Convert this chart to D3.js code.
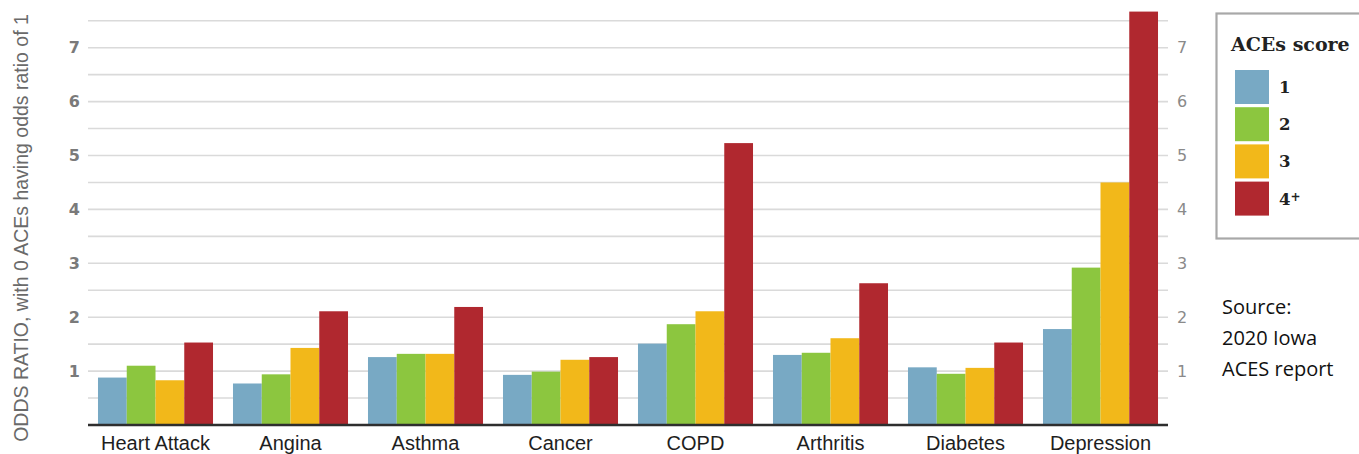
<!DOCTYPE html>
<html>
<head>
<meta charset="utf-8">
<script src="https://cdn.jsdelivr.net/npm/d3@7"></script>
<style>
  html, body { margin: 0; padding: 0; background: #fff; }
  svg { display: block; }
</style>
</head>
<body>
<svg id="chart" width="1359" height="454"></svg>
<script>
// Odds ratios of chronic conditions by ACEs score (reference group: 0 ACEs)
const conditions = ["Heart Attack", "Angina", "Asthma", "Cancer", "COPD", "Arthritis", "Diabetes", "Depression"];
const scoreGroups = ["1", "2", "3", "4+"];
const score1 = [0.88, 0.77, 1.26, 0.93, 1.51, 1.30, 1.07, 1.78];
const score2 = [1.10, 0.94, 1.32, 0.99, 1.87, 1.34, 0.95, 2.92];
const score3 = [0.83, 1.43, 1.32, 1.21, 2.11, 1.61, 1.06, 4.50];
const score4 = [1.53, 2.11, 2.19, 1.26, 5.23, 2.63, 1.53, 7.67];
const seriesValues = [score1, score2, score3, score4];
const seriesColors = ["#78a9c4", "#8cc63f", "#f2b81a", "#b0282f"];
const yTicks = [1, 2, 3, 4, 5, 6, 7];
const yTitle = "ODDS RATIO, with 0 ACEs having odds ratio of 1";
const legendTitle = "ACEs score";
const sourceLines = ["Source:", "2020 Iowa", "ACES report"];

const svg = d3.select("#chart");

const plot = { left: 88, right: 1168, bottom: 425, top: 20.75 };

const x = d3.scaleBand()
  .domain(conditions)
  .range([plot.left, plot.right])
  .paddingInner(0.148)
  .paddingOuter(0.074);

const xInner = d3.scaleBand()
  .domain(scoreGroups)
  .range([0, x.bandwidth()])
  .padding(0);

const y = d3.scaleLinear()
  .domain([0, 7.5])
  .range([plot.bottom, plot.top]);

// horizontal gridlines every half unit
const gridValues = d3.range(0.5, 7.51, 0.5);
svg.append("g")
  .selectAll("line")
  .data(gridValues)
  .join("line")
  .attr("x1", plot.left)
  .attr("x2", plot.right)
  .attr("y1", d => y(d))
  .attr("y2", d => y(d))
  .attr("stroke", "#dadada")
  .attr("stroke-width", 1.6);

// left axis labels
const leftAxis = d3.axisLeft(y).tickValues(yTicks).tickSize(0).tickPadding(8).tickFormat(d3.format("d"));
const gl = svg.append("g")
  .attr("transform", `translate(${plot.left},0)`)
  .call(leftAxis);
gl.select(".domain").remove();
gl.selectAll("text")
  .attr("font-family", "'DejaVu Sans', sans-serif")
  .attr("font-size", 16)
  .attr("font-weight", "bold")
  .attr("fill", "#7a7a7a");

// right axis labels
const rightAxis = d3.axisRight(y).tickValues(yTicks).tickSize(0).tickPadding(9).tickFormat(d3.format("d"));
const gr = svg.append("g")
  .attr("transform", `translate(${plot.right},0)`)
  .call(rightAxis);
gr.select(".domain").remove();
gr.selectAll("text")
  .attr("font-family", "'DejaVu Sans', sans-serif")
  .attr("font-size", 16)
  .attr("fill", "#8a8a8a");

// grouped bars
const groups = svg.append("g")
  .selectAll("g")
  .data(conditions)
  .join("g")
  .attr("transform", d => `translate(${x(d)},0)`);

groups.selectAll("rect")
  .data((c, i) => scoreGroups.map((s, k) => ({ s, k, v: seriesValues[k][i] })))
  .join("rect")
  .attr("x", d => xInner(d.s))
  .attr("width", xInner.bandwidth())
  .attr("y", d => y(d.v))
  .attr("height", d => y(0) - y(d.v))
  .attr("fill", d => seriesColors[d.k]);

// baseline
svg.append("line")
  .attr("x1", plot.left)
  .attr("x2", plot.right)
  .attr("y1", y(0))
  .attr("y2", y(0))
  .attr("stroke", "#2e2e2e")
  .attr("stroke-width", 2.5);

// category labels
svg.append("g")
  .selectAll("text")
  .data(conditions)
  .join("text")
  .attr("x", d => x(d) + x.bandwidth() / 2)
  .attr("y", 450)
  .attr("text-anchor", "middle")
  .attr("font-family", "'Liberation Sans', Arial, sans-serif")
  .attr("font-size", 20)
  .attr("fill", "#1e1e1e")
  .text(d => d);

// y-axis title
svg.append("text")
  .attr("transform", `translate(28,228) rotate(-90)`)
  .attr("text-anchor", "middle")
  .attr("font-family", "'Liberation Sans', Arial, sans-serif")
  .attr("font-size", 19.5)
  .attr("fill", "#6a6a6a")
  .text(yTitle);

// legend
const legend = svg.append("g");
legend.append("rect")
  .attr("x", 1216.5)
  .attr("y", 13.5)
  .attr("width", 150)
  .attr("height", 225)
  .attr("fill", "#fff")
  .attr("stroke", "#a8a8a8")
  .attr("stroke-width", 2.2);
legend.append("text")
  .attr("x", 1231)
  .attr("y", 51)
  .attr("font-family", "'DejaVu Serif', serif")
  .attr("font-weight", "bold")
  .attr("font-size", 19)
  .attr("fill", "#222")
  .text(legendTitle);

const items = legend.selectAll("g.item")
  .data(scoreGroups)
  .join("g")
  .attr("class", "item")
  .attr("transform", (d, i) => `translate(1235,${70 + i * 37.2})`);
items.append("rect")
  .attr("width", 34)
  .attr("height", 34)
  .attr("fill", (d, i) => seriesColors[i]);
const labels = items.append("text")
  .attr("x", 44)
  .attr("y", 23)
  .attr("font-family", "'DejaVu Serif', serif")
  .attr("font-weight", "bold")
  .attr("font-size", 16.5)
  .attr("fill", "#222");
labels.append("tspan").text(d => d.replace("+", ""));
labels.filter(d => d.includes("+"))
  .append("tspan")
  .attr("font-size", 12)
  .attr("dy", -4)
  .text("+");

// source note
svg.append("g")
  .selectAll("text")
  .data(sourceLines)
  .join("text")
  .attr("x", 1222)
  .attr("y", (d, i) => 313.5 + i * 31)
  .attr("font-family", "'Open Sans', sans-serif")
  .attr("font-size", 20)
  .attr("fill", "#111")
  .text(d => d);
</script>
</body>
</html>
